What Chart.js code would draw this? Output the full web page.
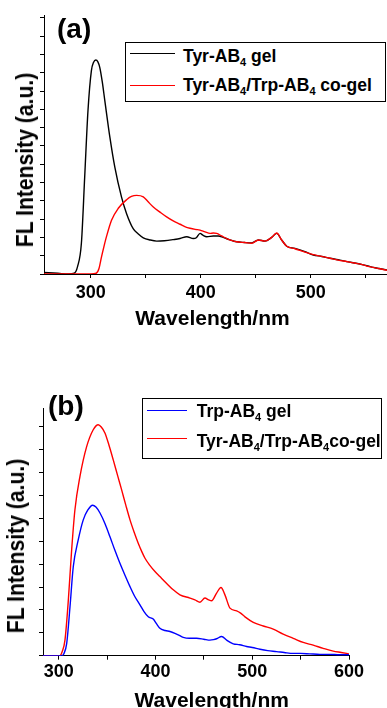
<!DOCTYPE html>
<html lang="en">
<head>
<meta charset="utf-8">
<title>FL spectra</title>
<script src="https://cdn.jsdelivr.net/npm/chart.js"></script>
<style>
  body { margin: 0; width: 387px; height: 708px; overflow: hidden; background: #fff;
         font-family: 'Liberation Sans', Arial, sans-serif; font-weight: bold; color: #000; }
  canvas { position: absolute; left: 0; }
  .txt { position: absolute; white-space: nowrap; }
  .panel { font-size: 28px; line-height: 28px; }
  .xtitle { font-size: 21px; line-height: 21px; transform: translate(-50%, -50%); }
  .ytitle { font-size: 24px; line-height: 24px; transform: translate(-50%, -50%) rotate(-90deg) scaleX(0.88); }
  .legend { position: absolute; border: 1px solid #000; background: #fff; }
  .legend .sample { position: absolute; height: 0; border-top: 1.5px solid; }
  .legend .label { position: absolute; font-size: 17.5px; line-height: 20px; white-space: nowrap; }
  .legend sub { font-size: 11px; vertical-align: -4px; line-height: 0; }
</style>
</head>
<body>
<canvas id="chartA" width="387" height="330" style="top:0"></canvas>
<canvas id="chartB" width="387" height="378" style="top:330px"></canvas>

<div class="txt panel" style="left:57px;top:15px">(a)</div>
<div class="txt panel" style="left:48px;top:392px">(b)</div>

<div class="txt ytitle" style="left:24.7px;top:160px">FL Intensity (a.u.)</div>
<div class="txt ytitle" style="left:15.7px;top:545.5px">FL Intensity (a.u.)</div>
<div class="txt xtitle" style="left:212.5px;top:317px">Wavelength/nm</div>
<div class="txt xtitle" style="left:211.7px;top:699px">Wavelength/nm</div>

<div class="legend" style="left:125px;top:42px;width:259px;height:58px">
  <span class="sample" style="left:4px;top:10px;width:45px;border-color:#000"></span>
  <span class="label" style="left:57px;top:3px">Tyr-AB<sub>4</sub> gel</span>
  <span class="sample" style="left:4px;top:41.5px;width:45px;border-color:#ff0000"></span>
  <span class="label" style="left:57px;top:32px">Tyr-AB<sub>4</sub>/Trp-AB<sub>4</sub> co-gel</span>
</div>
<div class="legend" style="left:141.7px;top:398px;width:238px;height:58.5px">
  <span class="sample" style="left:4px;top:11px;width:40px;border-color:#0000ff"></span>
  <span class="label" style="left:54px;top:2px">Trp-AB<sub>4</sub> gel</span>
  <span class="sample" style="left:4px;top:38.5px;width:40px;border-color:#ff0000"></span>
  <span class="label" style="left:54px;top:31.5px">Tyr-AB<sub>4</sub>/Trp-AB<sub>4</sub>co-gel</span>
</div>

<script>
// panel (a): Tyr-AB4 gel (black)
const tyrWl = [257.5, 270, 280, 285, 288, 291.5, 294.5, 297.5, 300.6, 302.5, 304.6, 306.5, 308.2, 310.5, 312.8,
  317.4, 321.9, 328, 332.6, 338.6, 343, 347.8, 354, 360, 367, 375, 381.2, 387.3, 393.3, 396, 399.4, 402, 405.5,
  411.5, 416, 420.5, 426, 432.7, 440, 446.4, 452.4, 458.5, 464.5, 469.1, 473.6, 478.2, 485.7, 494.8, 502.4, 510,
  517.5, 525, 532.7, 540, 547.8, 552, 556.9, 562, 569.4];
const tyrFl = [0.04, 0.02, 0.0, 0.02, 0.2, 0.84, 2.65, 4.47, 5.56, 5.78, 5.85, 5.8, 5.65, 5.25, 4.74,
  3.74, 2.92, 2.1, 1.65, 1.24, 1.1, 0.99, 0.93, 0.9, 0.91, 0.94, 0.97, 1.02, 0.97, 0.99, 1.11, 1.06, 1.02,
  1.04, 1.04, 1.0, 0.94, 0.88, 0.86, 0.85, 0.93, 0.9, 1.0, 1.11, 0.93, 0.76, 0.7, 0.61, 0.52, 0.48,
  0.43, 0.39, 0.34, 0.3, 0.25, 0.22, 0.18, 0.15, 0.11];

// panel (a): Tyr-AB4/Trp-AB4 co-gel (red)
const coWlA = [257.5, 300, 305, 307.5, 309.8, 312, 314.3, 318.9, 324.9, 332.6, 337, 341.7, 347.8, 352, 356.9,
  363, 369, 375, 381.2, 386, 390.3, 395, 399.4, 404, 408.5, 411.5, 414.5, 419, 423.6, 428, 432.7, 440, 446.4,
  452.4, 458.5, 464.5, 469.1, 473.6, 478.2, 485.7, 494.8, 502.4, 510, 517.5, 525, 532.7, 540, 547.8, 552,
  556.9, 562, 569.4];
const coFlA = [0, 0, 0.02, 0.15, 0.47, 0.75, 1.02, 1.47, 1.79, 2.03, 2.12, 2.15, 2.11, 1.98, 1.83,
  1.69, 1.56, 1.45, 1.36, 1.29, 1.25, 1.22, 1.2, 1.15, 1.11, 1.12, 1.11, 1.04, 0.97, 0.92, 0.88, 0.86, 0.84,
  0.93, 0.9, 1.0, 1.12, 0.93, 0.76, 0.69, 0.6, 0.53, 0.48, 0.43, 0.38, 0.34, 0.3, 0.25, 0.21,
  0.18, 0.15, 0.1];

// panel (b): Trp-AB4 gel (blue)
const trpWl = [283.8, 300, 303, 305.5, 308.3, 311.7, 315.1, 320.2, 325.4, 330, 335.1, 338.5, 342.7, 348, 353,
  358, 363.3, 368.5, 373.7, 378.5, 384, 388, 392.6, 397.7, 401, 404.6, 410, 415, 420.1, 424, 428.7, 435,
  442.5, 450, 456.3, 460, 463.2, 468.4, 473.6, 480.4, 487, 494.2, 500, 508, 516, 525.2, 533, 542.4, 550,
  559.6, 570, 580, 590, 600];
const trpFl = [0, 0, 0, 0.05, 0.27, 1.07, 1.95, 2.53, 2.97, 3.18, 3.29, 3.25, 3.12, 2.88, 2.6,
  2.31, 2.02, 1.76, 1.51, 1.3, 1.11, 0.97, 0.85, 0.8, 0.7, 0.6, 0.55, 0.53, 0.49, 0.45, 0.4, 0.38,
  0.38, 0.36, 0.34, 0.35, 0.37, 0.42, 0.34, 0.26, 0.24, 0.2, 0.18, 0.14, 0.11, 0.09, 0.07, 0.05, 0.05,
  0.04, 0.03, 0.03, 0.02, 0.02];

// panel (b): Tyr-AB4/Trp-AB4 co-gel (red)
const coWlB = [283.8, 300, 301.3, 303.5, 306.5, 310, 313.4, 316.8, 322, 328.9, 335.7, 340.9, 344, 347.8, 352,
  356.4, 361, 365, 369.5, 373.7, 378, 382.2, 386, 389.2, 394, 399.5, 404.6, 411.6, 418.4, 425.3, 435.6,
  440.8, 446, 451.1, 455, 458, 463.2, 467.7, 471.8, 477, 483.9, 488, 492.5, 501.1, 511.4, 521.7, 532,
  542.4, 552.7, 563, 573.4, 583.7, 592, 600];
const coFlB = [0, 0, 0, 0.08, 0.34, 1.22, 2.31, 3.19, 3.92, 4.57, 4.94, 5.05, 5.0, 4.87, 4.6,
  4.28, 3.93, 3.63, 3.28, 2.97, 2.7, 2.46, 2.27, 2.13, 1.98, 1.84, 1.73, 1.58, 1.44, 1.33, 1.26,
  1.22, 1.17, 1.26, 1.22, 1.2, 1.37, 1.49, 1.33, 1.04, 0.98, 0.93, 0.85, 0.73, 0.65, 0.58, 0.47,
  0.38, 0.29, 0.23, 0.16, 0.1, 0.07, 0.04];

// ticks
const xTicksA = [300, 350, 400, 450, 500, 550];
const xTicksB = [300, 350, 400, 450, 500, 550, 600];
const yTicksA = [0, 0.5, 1, 1.5, 2, 2.5, 3, 3.5, 4, 4.5, 5, 5.5, 6, 6.5, 7];
const yTicksB = [0, 0.5, 1, 1.5, 2, 2.5, 3, 3.5, 4, 4.5, 5];

Chart.defaults.font.family = "'Liberation Sans', Arial, sans-serif";
Chart.defaults.color = '#000';

function pts(xs, ys) {
  return xs.map((x, i) => ({ x: x, y: ys[i] }));
}

function line(data, color, order) {
  return {
    data: data,
    borderColor: color,
    borderWidth: 1.4,
    pointRadius: 0,
    fill: false,
    cubicInterpolationMode: 'monotone',
    order: order,
  };
}

function makeOptions(xMin, xMax, xTicks, yMax, yTicks, tickPad, padding) {
  const axisGrid = { drawOnChartArea: false, drawTicks: true, tickLength: 4, color: '#000', lineWidth: 1 };
  return {
    responsive: false,
    animation: false,
    layout: { padding: padding },
    plugins: { legend: { display: false }, tooltip: { enabled: false } },
    scales: {
      x: {
        type: 'linear',
        min: xMin,
        max: xMax,
        afterBuildTicks: scale => { scale.ticks = xTicks.map(v => ({ value: v })); },
        ticks: {
          autoSkip: false,
          maxRotation: 0,
          padding: tickPad,
          font: { size: 18, weight: 'bold', lineHeight: 1 },
          color: '#000',
          callback: v => (v % 100 === 0 ? v : ''),
        },
        grid: axisGrid,
        border: { display: true, color: '#000', width: 1 },
      },
      y: {
        min: 0,
        max: yMax,
        afterBuildTicks: scale => { scale.ticks = yTicks.map(v => ({ value: v })); },
        ticks: { display: false },
        grid: axisGrid,
        border: { display: true, color: '#000', width: 1 },
      },
    },
  };
}

// the x scale reserves tick padding twice, so the bottom padding is trimmed by one padding
new Chart(document.getElementById('chartA'), {
  type: 'line',
  data: {
    datasets: [
      line(pts(coWlA, coFlA), '#ff0000', 0),
      line(pts(tyrWl, tyrFl), '#000000', 1),
    ],
  },
  options: makeOptions(257.5, 569.4, xTicksA, 7.08, yTicksA, 6.5,
    { left: 40, right: 0, top: 15, bottom: 21 }),
});

new Chart(document.getElementById('chartB'), {
  type: 'line',
  data: {
    datasets: [
      line(pts(trpWl, trpFl), '#0000ff', 0),
      line(pts(coWlB, coFlB), '#ff0000', 1),
    ],
  },
  options: makeOptions(283.8, 600, xTicksB, 5.415, yTicksB, 3.8,
    { left: 39, right: 38, top: 78, bottom: 22.7 }),
});
</script>
</body>
</html>
